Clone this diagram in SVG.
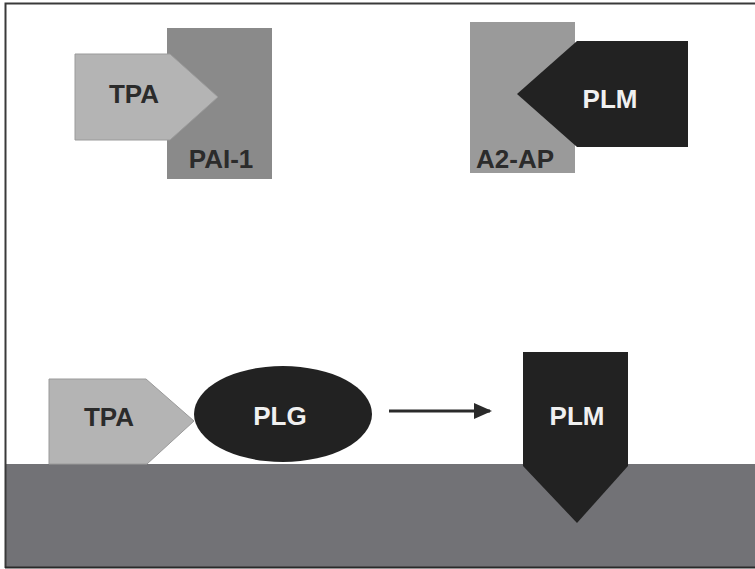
<svg xmlns="http://www.w3.org/2000/svg" width="755" height="569" viewBox="0 0 755 569">
  <defs>
    <style>
      .lbl { font-family: "Liberation Sans", Arial, sans-serif; font-weight: bold; font-size: 26px; text-anchor: middle; }
      .dk { fill: #2b2b2b; }
      .lt { fill: #f0f0f0; }
      .tpa { fill: #b4b4b4; stroke: #9a9a9a; stroke-width: 1; }
      .dark { fill: #222222; }
    </style>
    <marker id="arrowhead" markerWidth="18" markerHeight="18" refX="16" refY="9" orient="auto" markerUnits="userSpaceOnUse" viewBox="0 0 18 18">
      <path d="M0,1 L18,9 L0,17 Z" fill="#2a2a2a"/>
    </marker>
  </defs>

  <!-- background and frame -->
  <rect x="0" y="0" width="755" height="569" fill="#ffffff"/>
  <rect x="5" y="464" width="750" height="104" fill="#727276"/>
  <path d="M5.5,568 L5.5,3.5 L755,3.5" fill="none" stroke="#3a3a3a" stroke-width="2"/>
  <line x1="5" y1="567.5" x2="755" y2="567.5" stroke="#2a2a2a" stroke-width="2"/>

  <!-- TPA bound to PAI-1 -->
  <g id="pai1">
    <rect x="167" y="28" width="105" height="151" fill="#8a8a8a"/>
    <text class="lbl dk" x="221" y="168">PAI-1</text>
  </g>
  <g id="tpa-top">
    <polygon class="tpa" points="75,54 170,54 218,97 170,140 75,140"/>
    <text class="lbl dk" x="134" y="103">TPA</text>
  </g>

  <!-- PLM bound to A2-AP -->
  <g id="a2ap">
    <rect x="470" y="22" width="105" height="151" fill="#9a9a9a"/>
    <text class="lbl dk" x="515" y="168">A2-AP</text>
  </g>
  <g id="plm-top">
    <polygon class="dark" points="517,94 577,41 688,41 688,147 577,147"/>
    <text class="lbl lt" x="610" y="108">PLM</text>
  </g>

  <!-- surface-bound activation -->
  <g id="tpa-bottom">
    <polygon class="tpa" points="49,379 146,379 194,421 147,464 49,464"/>
    <text class="lbl dk" x="109" y="426">TPA</text>
  </g>
  <g id="plg">
    <ellipse cx="283" cy="414" rx="89" ry="48" fill="#222222"/>
    <text class="lbl lt" x="280" y="425">PLG</text>
  </g>
  <g id="plm-bottom">
    <polygon class="dark" points="523,352 628,352 628,466 577,523 523,466"/>
    <text class="lbl lt" x="577" y="425">PLM</text>
  </g>

  <g id="connectors">
    <line x1="389" y1="411" x2="490" y2="411" stroke="#2a2a2a" stroke-width="3" marker-end="url(#arrowhead)"/>
  </g>
</svg>
